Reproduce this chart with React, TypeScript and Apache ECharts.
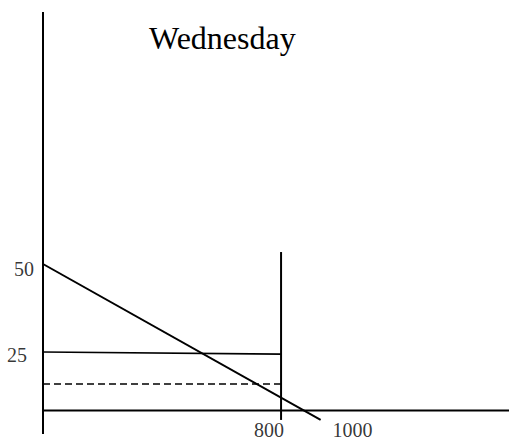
import React, { useEffect, useRef } from "react";
import * as echarts from "echarts";

// Coordinate frame of the sketch (x: quantity units, y: price units)
const xRange = [0, 1566];
const yRange = [0, 125];

// Line segments of the diagram
const verticalAxis = [[0, 121.6], [0, 1.7]];
const horizontalAxis = [[0, 8.4], [1566, 8.4]];
const demandLine = [[0, 50], [933, 5.7]];
const priceLine = [[0, 25], [800, 24.4]];
const dashedLine = [[0, 15.9], [800, 15.9]];
const quantityLine = [[800, 53.4], [800, 5.7]];

// Tick labels
const yTickValues = [50, 25];
const yTickLabels = ["50", "25"];
const xTickValues = [800, 1000];
const xTickLabels = ["800", "1000"];
const axisLevel = 8.4;

const titleText = "Wednesday";

const FONT = "Liberation Serif";

export default function App() {
  const ref = useRef<HTMLDivElement>(null);
  useEffect(() => {
    if (!ref.current) return;
    const chart = echarts.init(ref.current, null, { renderer: "svg" });
    const solid = (data: number[][], width = 2) => ({
      type: "line",
      data,
      symbol: "none",
      silent: true,
      lineStyle: { color: "#000", width, type: "solid" },
    });
    const yOffsets = [[-9, 4.5], [-16, 2.5]];
    const xOffsets = [[-12, 20], [12, 19.5]];
    chart.setOption({
      animation: false,
      backgroundColor: "#fff",
      graphic: [
        {
          type: "text",
          left: 149,
          top: 22,
          silent: true,
          style: {
            text: titleText,
            font: "32px 'Liberation Serif', serif",
            fill: "#000",
          },
        },
      ],
      grid: { left: 43, right: 0, top: 0, bottom: 0 },
      xAxis: { type: "value", min: xRange[0], max: xRange[1], show: false },
      yAxis: { type: "value", min: yRange[0], max: yRange[1], show: false },
      series: [
        solid(verticalAxis),
        solid(horizontalAxis),
        solid(demandLine),
        solid(priceLine, 1.6),
        {
          type: "line",
          data: dashedLine,
          symbol: "none",
          silent: true,
          lineStyle: { color: "#000", width: 1.5, type: [7, 4] },
        },
        solid(quantityLine),
        {
          type: "scatter",
          symbolSize: 0,
          silent: true,
          data: [
            ...yTickValues.map((v, i) => ({
              value: [0, v],
              label: {
                show: true,
                formatter: yTickLabels[i],
                position: "inside",
                align: "right",
                verticalAlign: "middle",
                offset: yOffsets[i],
              },
            })),
            ...xTickValues.map((v, i) => ({
              value: [v, axisLevel],
              label: {
                show: true,
                formatter: xTickLabels[i],
                position: "inside",
                align: "center",
                verticalAlign: "middle",
                offset: xOffsets[i],
              },
            })),
          ],
          label: { fontFamily: FONT, fontSize: 20, color: "#000" },
        },
      ],
    });
    return () => chart.dispose();
  }, []);
  return (
    <div
      ref={ref}
      style={{ position: "fixed", left: 0, top: 0, width: 509, height: 440, background: "#fff" }}
    />
  );
}
